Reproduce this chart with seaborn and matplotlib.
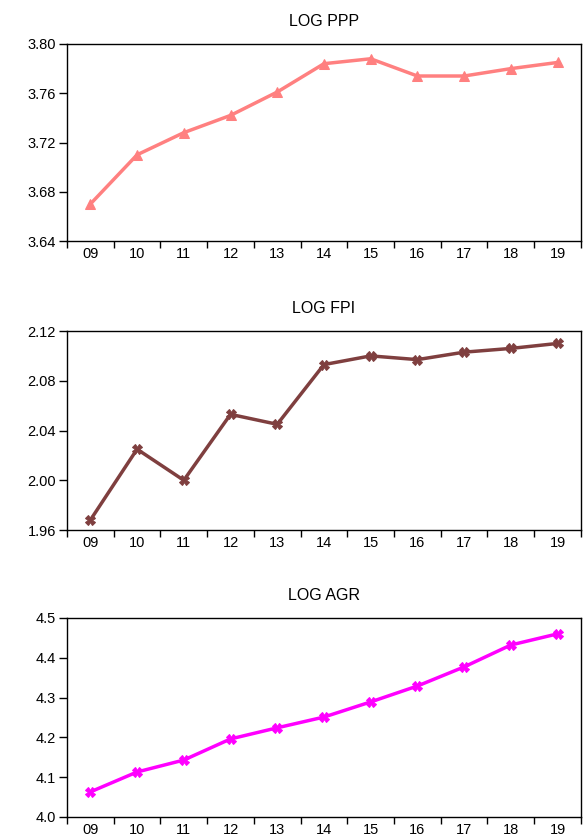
import matplotlib
matplotlib.use('Agg')
import pandas as pd
import matplotlib.pyplot as plt
import seaborn as sns
import numpy as np

years = ["09", "10", "11", "12", "13", "14", "15", "16", "17", "18", "19"]
log_ppp = [3.670, 3.710, 3.728, 3.742, 3.761, 3.784, 3.788, 3.774, 3.774, 3.780, 3.785]
log_fpi = [1.968, 2.025, 2.000, 2.053, 2.045, 2.093, 2.100, 2.097, 2.103, 2.106, 2.110]
log_agr = [4.063, 4.113, 4.143, 4.196, 4.224, 4.251, 4.289, 4.329, 4.377, 4.432, 4.460]

panels = [
    ("LOG PPP", log_ppp, "#ff8080", "^", (3.64, 3.80), np.arange(3.64, 3.801, 0.04), "%.2f"),
    ("LOG FPI", log_fpi, "#7f3f3f", "X", (1.96, 2.12), np.arange(1.96, 2.121, 0.04), "%.2f"),
    ("LOG AGR", log_agr, "#ff00ff", "X", (4.0, 4.5), np.arange(4.0, 4.501, 0.1), "%.1f"),
]

sns.set_style("white")
plt.rcParams['font.family'] = ['Liberation Sans', 'DejaVu Sans']
plt.rcParams['text.color'] = 'black'
plt.rcParams['xtick.color'] = 'black'
plt.rcParams['ytick.color'] = 'black'

fig = plt.figure(figsize=(5.86, 8.38), dpi=100)
rects = [
    [0.1143, 0.7124, 0.877, 0.2351],
    [0.1143, 0.3675, 0.877, 0.2375],
    [0.1143, 0.0251, 0.877, 0.2375],
]

for rect, (title, vals, col, mk, ylim, yt, fmt) in zip(rects, panels):
    ax = fig.add_axes(rect)
    df = pd.DataFrame({"x": np.arange(len(years)), "y": vals})
    sns.lineplot(data=df, x="x", y="y", ax=ax, color=col, linewidth=2.5,
                 marker=mk, markersize=7, markeredgecolor=col)
    ax.set_xlim(-0.5, len(years) - 0.5)
    ax.set_ylim(*ylim)
    ax.set_yticks(yt)
    ax.set_yticklabels([fmt % v for v in yt])
    ax.set_xticks(np.arange(len(years)))
    ax.set_xticklabels(years)
    ax.set_xticks(np.arange(-0.5, len(years)), minor=True)
    ax.tick_params(axis="x", which="major", bottom=True, length=0, pad=4, labelsize=10.5)
    ax.tick_params(axis="x", which="minor", bottom=True, length=5, width=1, direction="out")
    ax.tick_params(axis="y", left=True, length=6, width=1, direction="out", labelsize=10.5, pad=2)
    ax.set_xlabel("")
    ax.set_ylabel("")
    ax.set_title(title, fontsize=11.5, pad=13)
    for s in ax.spines.values():
        s.set_color("black")
        s.set_linewidth(1)

fig.savefig("out.png", dpi=100)
